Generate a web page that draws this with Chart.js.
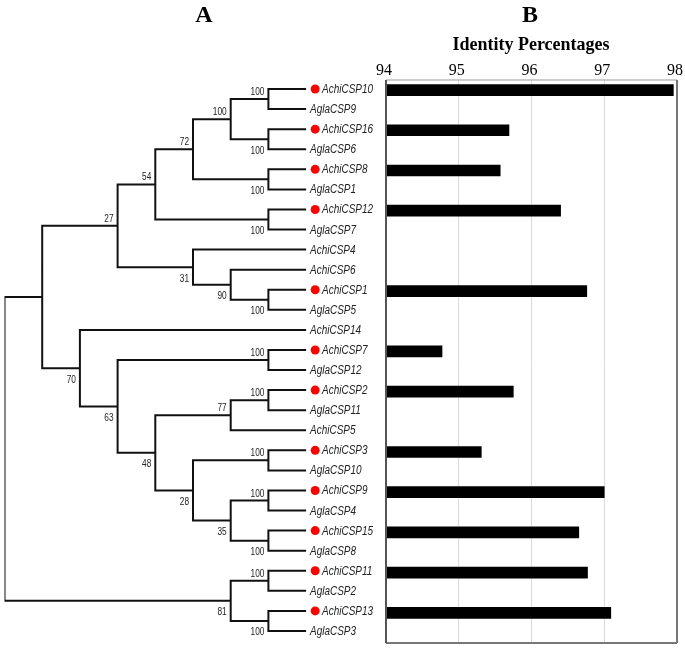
<!DOCTYPE html>
<html>
<head>
<meta charset="utf-8">
<script src="https://cdn.jsdelivr.net/npm/chart.js@4.4.1/dist/chart.umd.min.js"></script>
<style>
    html, body { margin: 0; padding: 0; background: #fff; }
    #wrap { position: relative; width: 685px; height: 648px; overflow: hidden; }
    canvas { position: absolute; top: 0; }
    #treeChart { left: 0; }
    #barChart { left: 356px; }
    .panel {
        position: absolute;
        font-family: 'Liberation Serif', 'Times New Roman', serif;
        font-weight: bold;
        color: #000;
        line-height: 1;
        white-space: nowrap;
        transform: translateX(-50%);
    }
</style>
</head>
<body>
<div id="wrap">
    <canvas id="treeChart" width="386" height="648"></canvas>
    <canvas id="barChart" width="329" height="648"></canvas>
    <div class="panel" style="left:204px; top:2px; font-size:24px;">A</div>
    <div class="panel" style="left:530px; top:2px; font-size:24px;">B</div>
    <div class="panel" style="left:531px; top:35px; font-size:18px;">Identity Percentages</div>
</div>
<script>
/* ============================================
   DATA
============================================ */
const leaves = [
    'AchiCSP10', 'AglaCSP9', 'AchiCSP16', 'AglaCSP6', 'AchiCSP8', 'AglaCSP1',
    'AchiCSP12', 'AglaCSP7', 'AchiCSP4', 'AchiCSP6', 'AchiCSP1', 'AglaCSP5',
    'AchiCSP14', 'AchiCSP7', 'AglaCSP12', 'AchiCSP2', 'AglaCSP11', 'AchiCSP5',
    'AchiCSP3', 'AglaCSP10', 'AchiCSP9', 'AglaCSP4', 'AchiCSP15', 'AglaCSP8',
    'AchiCSP11', 'AglaCSP2', 'AchiCSP13', 'AglaCSP3'
];

// identity % of each marked AchiCSP with its AglaCSP partner (null = no bar)
const identity = [
    97.95, null, 95.69, null, 95.57, null,
    96.40, null, null, null, 96.76, null,
    null, 94.77, null, 95.75, null, null,
    95.31, null, 97.00, null, 96.65, null,
    96.77, null, 97.09, null
];

// leaves with a red dot
const marked = identity.map(v => v !== null);

// tree topology: [childA, childB, bootstrap]; numbers are leaf indexes
const tree = [
    [
        [
            [[[[0, 1, 100], [2, 3, 100], 100], [4, 5, 100], 72], [6, 7, 100], 54],
            [8, [9, [10, 11, 100], 90], 31],
            27
        ],
        [
            12,
            [
                [13, 14, 100],
                [
                    [[15, 16, 100], 17, 77],
                    [[18, 19, 100], [[20, 21, 100], [22, 23, 100], 35], 28],
                    48
                ],
                63
            ],
            70
        ]
    ],
    [[24, 25, 100], [26, 27, 100], 81]
];

const xTicks = [94, 95, 96, 97, 98];

/* ============================================
   TREE LAYOUT (cladogram: x = depth from tips)
============================================ */
function layoutTree(node, first) {
    if (typeof node === 'number') return { y: node, h: 0, kids: [], first };
    const a = layoutTree(node[0], true);
    const b = layoutTree(node[1], false);
    return { y: (a.y + b.y) / 2, h: 1 + Math.max(a.h, b.h), kids: [a, b], support: node[2], first };
}

const root = layoutTree(tree, true);
const TIP = root.h;
const branchPts = [];
const supports = [];

(function walk(n, isRoot) {
    if (!n.kids.length) return;
    const x = TIP - n.h;
    const [a, b] = n.kids;
    branchPts.push(
        { x: TIP - a.h, y: a.y }, { x, y: a.y },
        { x, y: b.y }, { x: TIP - b.h, y: b.y },
        { x, y: null }
    );
    if (!isRoot && n.support != null) {
        supports.push({ x, y: n.y, text: String(n.support), first: n.first });
    }
    n.kids.forEach(k => walk(k, false));
})(root, true);

const dots = leaves
    .map((name, i) => marked[i] ? { x: TIP + 0.24, y: i } : null)
    .filter(Boolean);

/* ============================================
   TREE CHART
============================================ */
const SANS = '"Liberation Sans", Arial, sans-serif';
const SQUEEZE = 0.83; // narrow-font look

const treeText = {
    id: 'treeText',
    afterDatasetsDraw(chart) {
        const { ctx, scales: { x, y } } = chart;
        ctx.save();
        ctx.fillStyle = '#222';
        ctx.textBaseline = 'alphabetic';
        ctx.scale(SQUEEZE, 1);

        ctx.font = 'italic 12px ' + SANS;
        ctx.textAlign = 'left';
        leaves.forEach((name, i) => {
            const px = x.getPixelForValue(TIP) + (marked[i] ? 16 : 4);
            ctx.fillText(name, px / SQUEEZE, y.getPixelForValue(i) + 4);
        });

        ctx.font = '10px ' + SANS;
        ctx.textAlign = 'right';
        supports.forEach(s => {
            const py = y.getPixelForValue(s.y) + (s.first ? -4 : 14.5);
            ctx.fillText(s.text, (x.getPixelForValue(s.x) - 4) / SQUEEZE, py);
        });
        ctx.restore();
    }
};

new Chart(document.getElementById('treeChart'), {
    type: 'scatter',
    data: {
        datasets: [
            {
                data: branchPts,
                showLine: true,
                spanGaps: false,
                borderColor: '#111',
                borderWidth: 2,
                pointRadius: 0,
                tension: 0
            },
            {
                data: dots,
                pointRadius: 4.5,
                pointBackgroundColor: '#f00',
                pointBorderWidth: 0,
                clip: false
            }
        ]
    },
    options: {
        responsive: false,
        animation: false,
        events: [],
        layout: { padding: { left: 4, right: 3, top: 79, bottom: 7 } },
        plugins: { legend: { display: false }, tooltip: { enabled: false } },
        scales: {
            x: { type: 'linear', min: 0, max: 10, display: false },
            y: { type: 'linear', min: -0.5, max: leaves.length - 0.5, reverse: true, display: false }
        }
    },
    plugins: [treeText]
});

/* ============================================
   BAR CHART
============================================ */
const frame = {
    id: 'frame',
    afterDatasetsDraw(chart) {
        const { ctx, chartArea: a } = chart;
        ctx.save();
        const line = (x1, y1, x2, y2, color, w) => {
            ctx.strokeStyle = color;
            ctx.lineWidth = w;
            ctx.beginPath();
            ctx.moveTo(x1, y1);
            ctx.lineTo(x2, y2);
            ctx.stroke();
        };
        line(a.left, a.top, a.right, a.top, '#999', 1);
        line(a.right, a.top, a.right, a.bottom, '#777', 2);
        line(a.left, a.bottom, a.right, a.bottom, '#777', 2);
        line(a.left, a.top, a.left, a.bottom, '#555', 2);
        ctx.restore();
    }
};

new Chart(document.getElementById('barChart'), {
    type: 'bar',
    data: {
        labels: leaves,
        datasets: [{
            data: identity,
            backgroundColor: '#000',
            borderWidth: 0,
            barThickness: 11
        }]
    },
    options: {
        indexAxis: 'y',
        responsive: false,
        animation: false,
        events: [],
        layout: { padding: { left: 30, right: 6, top: 0, bottom: 5 } },
        plugins: { legend: { display: false }, tooltip: { enabled: false } },
        scales: {
            x: {
                position: 'top',
                min: xTicks[0],
                max: xTicks[xTicks.length - 1],
                afterBuildTicks: s => { s.ticks = xTicks.map(v => ({ value: v })); },
                afterFit: s => { s.height = 80; },
                ticks: {
                    color: '#000',
                    padding: 0,
                    labelOffset: -2,
                    font: { family: "'Liberation Serif', 'Times New Roman', serif", size: 16 }
                },
                grid: {
                    drawTicks: false,
                    lineWidth: 1,
                    color: c => (c.tick && (c.tick.value === 94 || c.tick.value === 98)) ? 'rgba(0,0,0,0)' : '#dadada'
                },
                border: { display: false }
            },
            y: { display: false }
        }
    },
    plugins: [frame]
});
</script>
</body>
</html>
